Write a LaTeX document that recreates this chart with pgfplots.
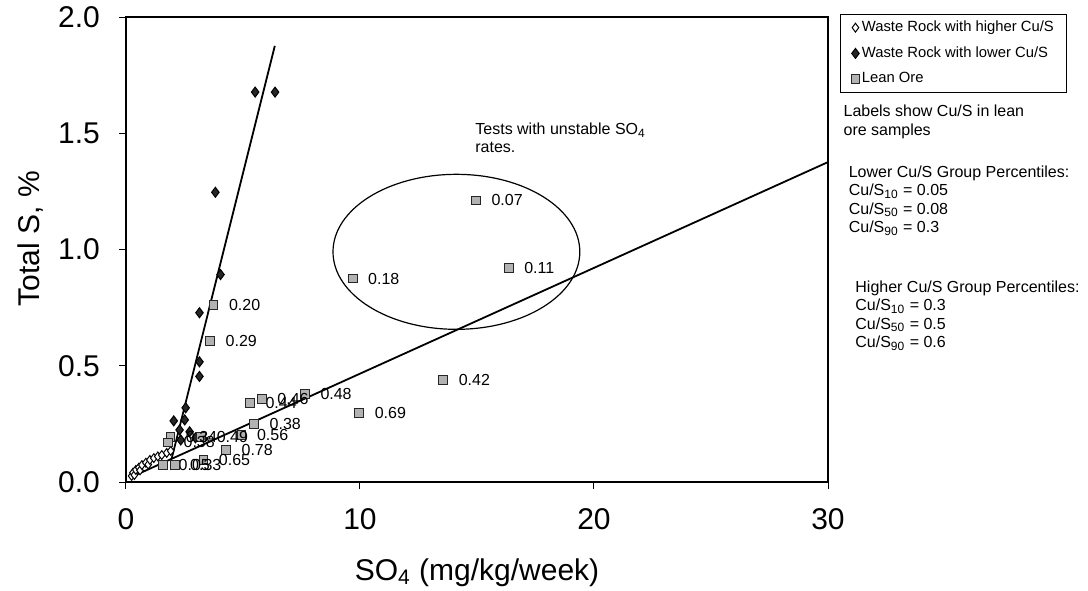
\documentclass[border=0pt]{standalone}
\usepackage{fontspec}
\setmainfont{Liberation Sans}
\usepackage{pgfplots}
\pgfplotsset{compat=1.18}
\usepackage{pgfplotstable}

\pgfplotstableread{
x y
0.24 0.026
0.30 0.040
0.36 0.030
0.42 0.052
0.55 0.062
0.60 0.050
0.68 0.073
0.85 0.083
0.95 0.075
1.02 0.095
1.19 0.103
1.36 0.110
1.53 0.116
1.74 0.125
1.91 0.134
}\highertab

\pgfplotstableread{
x y
5.52 1.677
6.37 1.677
3.82 1.246
4.04 0.892
3.14 0.728
3.14 0.517
3.14 0.454
2.55 0.319
2.51 0.267
2.04 0.263
2.29 0.224
2.72 0.216
2.34 0.181
2.97 0.190
}\lowertab

\pgfplotstableread{
x y lab
14.96 1.211 0.07
16.36 0.922 0.11
9.69 0.875 0.18
3.74 0.760 0.20
3.60 0.605 0.29
13.56 0.440 0.42
7.65 0.379 0.48
5.30 0.339 0.44
5.81 0.356 0.46
9.97 0.296 0.69
5.48 0.250 0.38
4.94 0.203 0.56
3.22 0.194 0.49
1.90 0.195 0.34
1.80 0.170 0.38
4.28 0.138 0.78
3.31 0.093 0.65
1.59 0.073 0.05
2.08 0.073 0.33
}\leanoretab

\pgfplotsset{lgmark/.style={legend image code/.code={\draw[mark repeat=2,mark phase=2,##1] plot coordinates {(0pt,0pt) (4pt,0pt) (8pt,0pt)};}}}

\begin{document}
\begin{tikzpicture}
\path[use as bounding box] (-63pt,-54pt) rectangle (481pt,241pt);
\begin{axis}[
  at={(0,0)}, anchor=south west,
  scale only axis, width=351pt, height=232.5pt,
  xmin=0, xmax=30, ymin=0, ymax=2,
  xtick={0,10,20,30}, ytick={0,0.5,1,1.5,2},
  xtick pos=left, ytick pos=left,
  tick align=outside, major tick length=3.5pt,
  axis line style={line width=0.6pt},
  every tick/.style={black, line width=0.5pt},
  /pgf/number format/assume math mode=true,
  tick label style={font=\fontsize{15}{15}\selectfont},
  yticklabel style={/pgf/number format/.cd, fixed, fixed zerofill, precision=1},
  xticklabel shift=6pt, yticklabel shift=6pt,
  xlabel={SO\textsubscript{4} (mg/kg/week)},
  ylabel={Total S, \%},
  label style={font=\fontsize{15}{15}\selectfont},
  xlabel style={at={(axis description cs:0.5,-0.195)}, anchor=center},
  ylabel style={at={(axis description cs:-0.136,0.523)}, anchor=center},
  legend style={at={(1.0165,1.0075)}, anchor=north west, font=\fontsize{7.4}{8.5}\selectfont,
    draw=black, line width=0.5pt, cells={anchor=west}, nodes={inner sep=1pt},
    inner xsep=5.5pt, inner ysep=2.4pt, row sep=4pt,
    /tikz/every even column/.style={column sep=1.5pt}},
]
\addplot[black, line width=0.9pt, forget plot] coordinates {(1.95,0.10) (6.36,1.876)};
\addplot[black, line width=0.9pt, forget plot] coordinates {(0.2,0.02) (30,1.376)};
\draw[black, line width=0.6pt] (axis cs:14.12,0.99) ellipse [x radius=61.7pt, y radius=38.75pt];

\addplot[only marks, mark=diamond*, mark size=2.2pt, mark options={fill=white, draw=black, line width=0.5pt}, lgmark] table {\highertab};
\addlegendentry{Waste Rock with higher Cu/S}
\addplot[only marks, mark=diamond*, mark size=2.5pt, mark options={fill=black!85, draw=black, line width=0.5pt}, lgmark] table {\lowertab};
\addlegendentry{Waste Rock with lower Cu/S}
\addplot[only marks, mark=square*, mark size=2.2pt, mark options={fill=gray!60, draw=black!85, line width=0.5pt}, lgmark,
  nodes near coords, point meta=explicit symbolic,
  every node near coord/.append style={anchor=west, xshift=7.5pt, inner sep=0pt, font=\fontsize{8}{8}\selectfont, text=black}]
  table[meta=lab] {\leanoretab};
\addlegendentry{Lean Ore}
\end{axis}
\begin{scope}[font=\fontsize{8}{8.8}\selectfont, every node/.style={anchor=base west, inner sep=0pt}]
\node at (174.5pt,173.5pt) {Tests with unstable SO\textsubscript{4}};
\node at (174.5pt,164.5pt) {rates.};
\node at (358.6pt,182.5pt) {Labels show Cu/S in lean};
\node at (358.6pt,173.2pt) {ore samples};
\node at (361.2pt,152.5pt) {Lower Cu/S Group Percentiles:};
\node at (361.2pt,143.3pt) {Cu/S\textsubscript{10} = 0.05};
\node at (361.2pt,134.0pt) {Cu/S\textsubscript{50} = 0.08};
\node at (361.2pt,124.8pt) {Cu/S\textsubscript{90} = 0.3};
\node at (364.5pt,95.0pt) {Higher Cu/S Group Percentiles:};
\node at (364.5pt,85.8pt) {Cu/S\textsubscript{10} = 0.3};
\node at (364.5pt,76.5pt) {Cu/S\textsubscript{50} = 0.5};
\node at (364.5pt,67.3pt) {Cu/S\textsubscript{90} = 0.6};
\end{scope}
\end{tikzpicture}
\end{document}
